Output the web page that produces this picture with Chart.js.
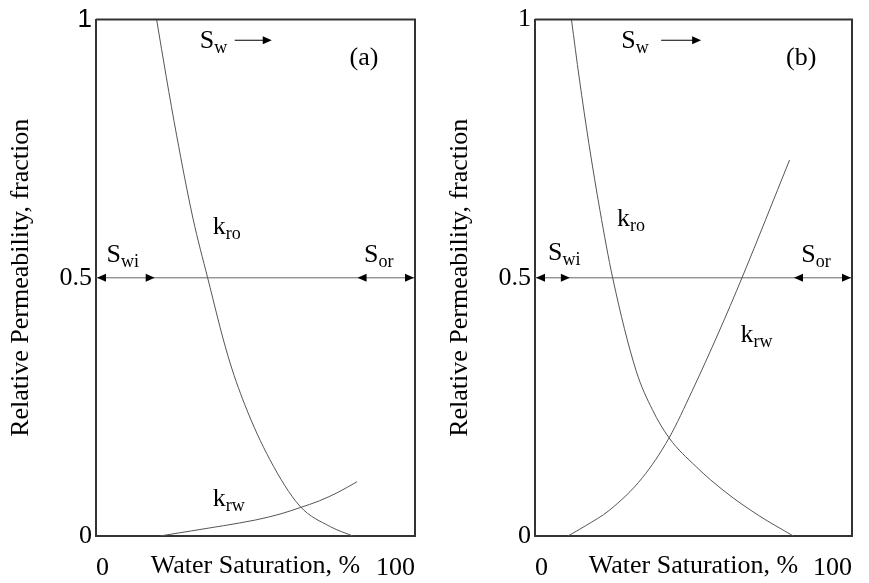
<!DOCTYPE html>
<html>
<head>
<meta charset="utf-8">
<script src="https://cdn.jsdelivr.net/npm/chart.js@4"></script>
<style>
  body { margin: 0; background: #fff; }
  #wrap { position: relative; width: 869px; height: 583px; }
  canvas { position: absolute; top: 0; }
</style>
</head>
<body>
<div id="wrap">
  <canvas id="chartA" width="435" height="583" style="left:0"></canvas>
  <canvas id="chartB" width="430" height="583" style="left:439px"></canvas>
</div>
<script>
// panel (a)
const satKroA = [19, 22, 25.3, 30.4, 35, 41.3, 46.6, 54.5, 63.9, 73.5, 80.5];
const kroA    = [1.0, 0.89, 0.775, 0.615, 0.5, 0.35, 0.255, 0.148, 0.058, 0.018, 0];
const satKrwA = [20, 30, 40, 50, 58, 64, 70, 76, 81.8];
const krwA    = [0, 0.010, 0.020, 0.031, 0.043, 0.055, 0.068, 0.085, 0.105];
const swiA = 18.4, sorA = 82;

// panel (b)
const satKroB = [11.5, 14, 17, 20.5, 24.5, 31.9, 37, 42.3, 50.7, 60.1, 70.5, 81.5];
const kroB    = [1.0, 0.885, 0.76, 0.63, 0.5, 0.32, 0.245, 0.19, 0.135, 0.085, 0.04, 0];
const satKrwB = [10.4, 16, 23.5, 33.9, 42.3, 49.5, 58, 65.3, 80.3];
const krwB    = [0, 0.02, 0.05, 0.113, 0.19, 0.28, 0.395, 0.5, 0.728];
const swiB = 11, sorB = 81.7;

const xTicks = [0, 100];
const yTicks = [0, 0.5, 1];
const xTitle = 'Water Saturation, %';
const yTitle = 'Relative Permeability, fraction';

const serif = '"Liberation Serif", "Times New Roman", serif';
const curveColor = '#555';
const boxColor = '#333';

function pts(xs, ys) {
  return xs.map((x, i) => ({ x: x, y: ys[i] }));
}

function drawSub(ctx, main, sub, x, y) {
  ctx.font = '26px ' + serif;
  ctx.fillText(main, x, y);
  const w = ctx.measureText(main).width;
  ctx.font = '18px ' + serif;
  ctx.fillText(sub, x + w, y + 5);
}

function arrowHead(ctx, x, y, dir) {
  ctx.beginPath();
  ctx.moveTo(x, y);
  ctx.lineTo(x - dir * 9, y - 4);
  ctx.lineTo(x - dir * 9, y + 4);
  ctx.closePath();
  ctx.fill();
}

const annotate = {
  id: 'annotate',
  afterDraw(chart) {
    const ctx = chart.ctx;
    const a = chart.chartArea;
    const xs = chart.scales.x, ys = chart.scales.y;
    const o = chart.options.plugins.annotate;
    ctx.save();
    // top and right frame
    ctx.strokeStyle = boxColor;
    ctx.lineWidth = 2;
    ctx.beginPath();
    ctx.moveTo(a.left, a.top);
    ctx.lineTo(a.right, a.top);
    ctx.lineTo(a.right, a.bottom);
    ctx.stroke();

    ctx.fillStyle = '#000';
    const yh = ys.getPixelForValue(0.5);
    arrowHead(ctx, xs.getPixelForValue(0) + 1, yh, -1);
    arrowHead(ctx, xs.getPixelForValue(o.swi), yh, 1);
    arrowHead(ctx, xs.getPixelForValue(o.sor), yh, -1);
    arrowHead(ctx, xs.getPixelForValue(100) - 1, yh, 1);

    // Sw arrow
    const ya = ys.getPixelForValue(0.96);
    ctx.strokeStyle = '#000';
    ctx.lineWidth = 1;
    ctx.beginPath();
    ctx.moveTo(xs.getPixelForValue(o.swArrow[0]), ya);
    ctx.lineTo(xs.getPixelForValue(o.swArrow[1]) - 6, ya);
    ctx.stroke();
    arrowHead(ctx, xs.getPixelForValue(o.swArrow[1]), ya, 1);

    ctx.textBaseline = 'alphabetic';
    ctx.textAlign = 'left';
    o.notes.forEach(n => {
      drawSub(ctx, n.main, n.sub, xs.getPixelForValue(n.x), ys.getPixelForValue(n.y));
    });

    ctx.font = '26px ' + serif;
    ctx.textAlign = 'center';
    ctx.textBaseline = 'middle';
    ctx.fillText(o.tag, xs.getPixelForValue(84), ys.getPixelForValue(0.925));
    ctx.fillText(xTitle, (a.left + a.right) / 2, 566);
    ctx.restore();
  }
};

function makeChart(id, p) {
  return new Chart(document.getElementById(id), {
    type: 'scatter',
    data: {
      datasets: [
        { data: pts(p.satKro, p.kro) },
        { data: pts(p.satKrw, p.krw) },
        { data: [{ x: 0, y: 0.5 }, { x: 100, y: 0.5 }], borderColor: '#666', cubicInterpolationMode: 'default', tension: 0 }
      ]
    },
    options: {
      responsive: false,
      animation: false,
      layout: { padding: { top: 11, right: p.rightPad, left: 0, bottom: 0 } },
      datasets: {
        scatter: {
          showLine: true,
          pointRadius: 0,
          borderWidth: 1,
          borderColor: curveColor,
          cubicInterpolationMode: 'monotone'
        }
      },
      plugins: {
        legend: { display: false },
        tooltip: { enabled: false },
        annotate: { swi: p.swi, sor: p.sor, swArrow: p.swArrow, notes: p.notes, tag: p.tag }
      },
      scales: {
        x: {
          type: 'linear',
          min: 0,
          max: 100,
          afterBuildTicks: s => { s.ticks = xTicks.map(v => ({ value: v })); },
          afterFit: s => { s.height = 47; },
          grid: { display: false, drawTicks: false },
          border: { display: true, color: boxColor, width: 2 },
          ticks: { align: 'inner', padding: 17, color: '#000', font: { family: serif, size: 26 } }
        },
        y: {
          min: 0,
          max: 1,
          afterBuildTicks: s => { s.ticks = yTicks.map(v => ({ value: v })); },
          afterFit: s => { s.width = 96; },
          grid: { display: false, drawTicks: false },
          border: { display: true, color: boxColor, width: 2 },
          ticks: {
            padding: 4,
            color: '#000',
            callback: v => (v === 0.5 ? '0.5' : String(v)),
            font: ctx => ({
              family: (p.sansTop && ctx.tick && ctx.tick.value === 1) ? '"Liberation Sans", Arial, sans-serif' : serif,
              size: 26
            })
          },
          title: {
            display: true,
            text: yTitle,
            color: '#000',
            padding: { top: 6, bottom: 0 },
            font: { family: serif, size: 26 }
          }
        }
      }
    },
    plugins: [annotate]
  });
}

makeChart('chartA', {
  satKro: satKroA, kro: kroA, satKrw: satKrwA, krw: krwA,
  swi: swiA, sor: sorA, swArrow: [43.5, 55.1], tag: '(a)', rightPad: 20, sansTop: true,
  notes: [
    { main: 'S', sub: 'w', x: 32.5, y: 0.945 },
    { main: 'k', sub: 'ro', x: 36.6, y: 0.585 },
    { main: 'S', sub: 'wi', x: 3.3, y: 0.53 },
    { main: 'S', sub: 'or', x: 84, y: 0.53 },
    { main: 'k', sub: 'rw', x: 36.6, y: 0.058 }
  ]
});

makeChart('chartB', {
  satKro: satKroB, kro: kroB, satKrw: satKrwB, krw: krwB,
  swi: swiB, sor: sorB, swArrow: [39.8, 52.4], tag: '(b)', rightPad: 15, sansTop: false,
  notes: [
    { main: 'S', sub: 'w', x: 27.2, y: 0.945 },
    { main: 'k', sub: 'ro', x: 25.9, y: 0.6 },
    { main: 'S', sub: 'wi', x: 4.1, y: 0.535 },
    { main: 'S', sub: 'or', x: 84, y: 0.53 },
    { main: 'k', sub: 'rw', x: 64.8, y: 0.375 }
  ]
});
</script>
</body>
</html>
